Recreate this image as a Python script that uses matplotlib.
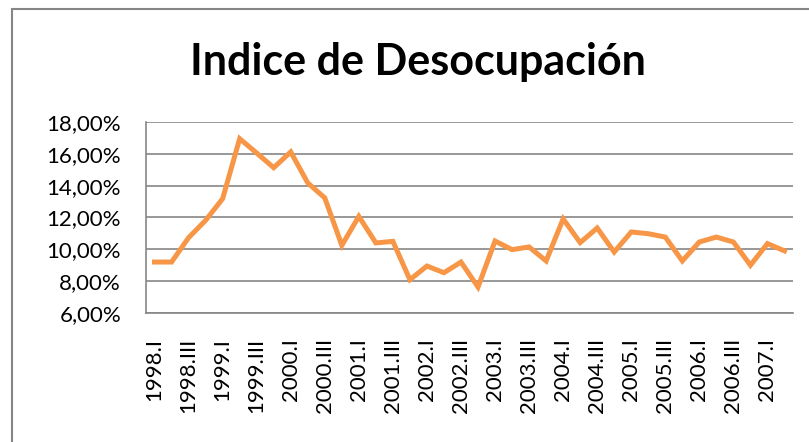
import matplotlib.pyplot as plt
import matplotlib.patches as mpatches
from matplotlib.ticker import FuncFormatter

plt.rcParams["font.family"] = ["Lato", "DejaVu Sans"]

# trimestres 1998.I - 2007.II
anios = [str(a) for a in range(1998, 2008)]
trimestres = ["I", "II", "III", "IV"]
periodos = [a + "." + t for a in anios for t in trimestres][:38]

# indice de desocupacion (%)
desocupacion = [9.20, 9.20, 10.73, 11.82, 13.18, 16.95, 16.05, 15.13, 16.12, 14.17,
                13.23, 10.25, 12.07, 10.40, 10.50, 8.09, 8.95, 8.53, 9.20, 7.63,
                10.52, 9.98, 10.15, 9.27, 11.91, 10.42, 11.34, 9.83, 11.09, 10.98,
                10.77, 9.27, 10.46, 10.77, 10.46, 9.00, 10.36, 9.90]

gris = "#868686"
naranja = "#F79646"

fig = plt.figure(figsize=(8.09, 4.42), dpi=100)
ax = fig.add_axes([0.1805, 0.2919, 0.7997, 0.4321])

x = list(range(len(periodos)))
ax.plot(x, desocupacion, color=naranja, linewidth=3.6, solid_joinstyle="miter")

ax.set_xlim(-0.5, len(periodos) - 0.5)
ax.set_ylim(6, 18)
ax.set_yticks(range(6, 19, 2))
ax.yaxis.set_major_formatter(FuncFormatter(lambda v, p: f"{v:.2f}".replace(".", ",") + "%"))
ax.set_xticks(x[::2])
ax.set_xticklabels(periodos[::2], rotation=90)

ax.grid(axis="y", color=gris, linewidth=1.2)
ax.set_axisbelow(True)
for lado in ["top", "right"]:
    ax.spines[lado].set_visible(False)
for lado in ["left", "bottom"]:
    ax.spines[lado].set_color(gris)
    ax.spines[lado].set_linewidth(1.2)
ax.tick_params(axis="both", length=0, labelsize=16, colors="black")
ax.tick_params(axis="y", pad=18)
ax.tick_params(axis="x", pad=18)

fig.text(0.516, 0.83, "Indice de Desocupación", ha="center", va="baseline",
         fontsize=31, fontweight="bold")

# borde del grafico
fig.patches.append(mpatches.Rectangle((12 / 809, -0.1), 1.0, 1.1 - 9 / 442,
                                      transform=fig.transFigure, fill=False,
                                      edgecolor=gris, linewidth=1.5))

fig.savefig("out.png", dpi=100)
